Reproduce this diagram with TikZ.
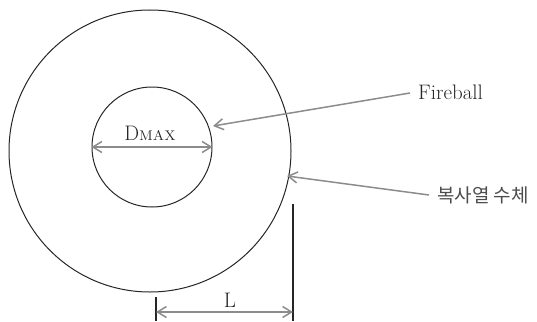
\documentclass[tikz,border=0pt]{standalone}
\usepackage{fontspec}
\newfontfamily\kr{Noto Sans CJK KR}
\usetikzlibrary{arrows.meta}
\begin{document}
\begin{tikzpicture}[x=1pt,y=-1pt,
  circ/.style={draw=black!85,line width=1pt},
  garrow/.style={draw=black!45,line width=1.5pt,-{Straight Barb[length=9pt,width=11pt,line width=1.5pt]}},
  gdim/.style={draw=black!45,line width=1.5pt,{Straight Barb[length=9pt,width=11pt,line width=1.5pt]}-{Straight Barb[length=9pt,width=11pt,line width=1.5pt]}},
  lbl/.style={font=\fontsize{21}{23}\selectfont,inner sep=0pt,text=black!85},
  vline/.style={draw=black!85,line width=1.1pt}]
\useasboundingbox (0,0) rectangle (537,321);
\node[circ,circle,minimum size=282pt,inner sep=0pt] (outer) at (150,151) {};
\node[circ,circle,minimum size=120pt,inner sep=0pt] (inner) at (152,147) {};
% D max
\coordinate (dl) at (inner.west);
\coordinate (dr) at (inner.east);
\draw[gdim] (dl) -- (dr);
\node[lbl,anchor=base] (dmax) at (150,140) {D\textsc{\fontsize{14}{16}\selectfont MAX}};
% Fireball
\node[lbl,anchor=base west] (fire) at (418,99) {Fireball};
\coordinate (fs) at (410,93);
\coordinate (ft) at (213,126);
\draw[garrow] (fs) -- (ft);
% Korean
\node[lbl,anchor=base west,text=black!70] (kor) at (437,202) {\kr\fontsize{19}{21}\selectfont 복사열 수체};
\coordinate (ks) at (429,195);
\coordinate (kt) at (287,176);
\draw[garrow] (ks) -- (kt);
% L dimension
\coordinate (la) at (156,297);
\coordinate (lb) at (156,321);
\coordinate (ra) at (293,204);
\coordinate (rb) at (293,321);
\draw[vline] (la) -- (lb);
\draw[vline] (ra) -- (rb);
\coordinate (l1) at (156,312);
\coordinate (l2) at (293,312);
\draw[gdim] (l1) -- (l2);
\node[lbl,anchor=base] (L) at (230,307) {L};
\end{tikzpicture}
\end{document}
